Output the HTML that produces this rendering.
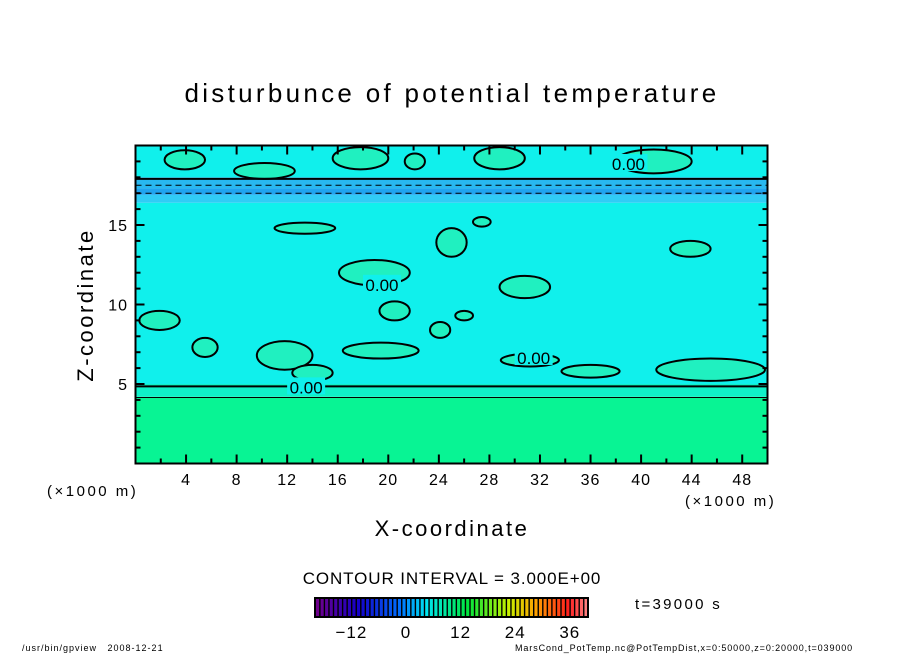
<!DOCTYPE html>
<html><head><meta charset="utf-8"><style>
body{margin:0;background:#fff;}
svg{display:block;font-family:"Liberation Sans","DejaVu Sans",sans-serif;}
</style></head><body>
<svg id="chart" width="904" height="654" viewBox="0 0 904 654">
<text x="452" y="102" text-anchor="middle" font-size="26" letter-spacing="3.3">disturbunce of potential temperature</text>
<text transform="translate(93,305) rotate(-90)" text-anchor="middle" font-size="22" letter-spacing="2.5">Z-coordinate</text>
<text x="452" y="536" text-anchor="middle" font-size="22" letter-spacing="2.5">X-coordinate</text>
<text x="47" y="496" font-size="15" letter-spacing="2.5">(×1000 m)</text>
<text x="685" y="506" font-size="15" letter-spacing="2.5">(×1000 m)</text>
<text x="452" y="584" text-anchor="middle" font-size="17" letter-spacing="0.9">CONTOUR INTERVAL = 3.000E+00</text>
<text x="635" y="609" font-size="15" letter-spacing="2.3">t=39000 s</text>
<text x="22" y="651" font-size="9" letter-spacing="1" style="white-space:pre">/usr/bin/gpview   2008-12-21</text>
<text x="515" y="651" font-size="9" letter-spacing="0.9">MarsCond_PotTemp.nc@PotTempDist,x=0:50000,z=0:20000,t=039000</text>
<g id="plot"></g>
<g id="cbar"></g>
</svg>
<script>
// data
const xTicks=[4,8,12,16,20,24,28,32,36,40,44,48];
const zTicks=[5,10,15];
// horizontal bands: [zFrom, zTo, value]
const bandZ0=[0,4.2,5,16.4,16.9,17.3,18.0];
const bandZ1=[4.2,5,16.4,16.9,17.3,18.0,20];
const bandVal=[6,3,0,-2,-4,-3,1];
// blobs (positive disturbance regions): centre x, centre z, half-width, half-height
const blobX=[3.9,10.2,17.8,22.1,28.8,41.0,13.4,25.0,27.4,30.8,18.9,20.5,24.1,26.0,1.9,5.5,11.8,19.4,31.2,43.9,45.5,36.0,14.0];
const blobZ=[19.1,18.4,19.2,19.0,19.2,19.0,14.8,13.9,15.2,11.1,12.0,9.6,8.4,9.3,9.0,7.3,6.8,7.1,6.5,13.5,5.9,5.8,5.7];
const blobW=[1.6,2.4,2.2,0.8,2.0,3.0,2.4,1.2,0.7,2.0,2.8,1.2,0.8,0.7,1.6,1.0,2.2,3.0,2.3,1.6,4.3,2.3,1.6];
const blobH=[0.6,0.5,0.7,0.5,0.7,0.75,0.35,0.9,0.3,0.7,0.8,0.6,0.5,0.3,0.6,0.6,0.9,0.5,0.4,0.5,0.7,0.4,0.5];
const solidZ=[4.85,17.9];
const thinZ=[4.15];
const dashZ=[17.5,17.0];
const cbTicks=[-12,0,12,24,36];

const NS="http://www.w3.org/2000/svg";
const X0=135.5,X1=767.5,Y0=463.5,Y1=145.5;
const sx=v=>X0+(v/50)*(X1-X0);
const sz=v=>Y0-(v/20)*(Y0-Y1);
function mk(t,a,p){const e=document.createElementNS(NS,t);for(const k in a)e.setAttribute(k,a[k]);p.appendChild(e);return e;}
function col(v){
  if(v>=5)return "#08f494";
  if(v>=2)return "#10f0c8";
  if(v>=-0.5)return "#10f0ec";
  if(v>=-2.5)return "#30ccf6";
  if(v>=-3.5)return "#28b8f0";
  return "#20a4f0";
}
const plot=document.getElementById('plot');
for(let i=0;i<bandZ0.length;i++){
  const r=mk('rect',{x:X0,y:sz(bandZ1[i]),width:X1-X0,height:sz(bandZ0[i])-sz(bandZ1[i]),fill:col(bandVal[i])},plot);
  
  
}
for(let i=0;i<blobX.length;i++){
  const e=mk('ellipse',{cx:sx(blobX[i]),cy:sz(blobZ[i]),rx:sx(blobW[i])-X0,ry:Y0-sz(blobH[i]),fill:"#20f0c0",stroke:"#000","stroke-width":2},plot);
  
  
}
solidZ.forEach(z=>{
  const l=mk('line',{x1:X0,x2:X1,y1:sz(z),y2:sz(z),stroke:"#000","stroke-width":2},plot);
  
  
});
thinZ.forEach(z=>{
  const l=mk('line',{x1:X0,x2:X1,y1:sz(z),y2:sz(z),stroke:"#000","stroke-width":1},plot);
  
  
});
dashZ.forEach(z=>{
  const l=mk('line',{x1:X0,x2:X1,y1:sz(z),y2:sz(z),stroke:"#000","stroke-width":1,"stroke-dasharray":"6 4"},plot);
  
  
});
[[13.5,4.85],[39.0,18.9],[19.5,11.3],[31.5,6.7]].forEach(p=>{
  const bg=mk('rect',{x:sx(p[0])-19,y:sz(p[1])-9,width:38,height:17,fill:"#10f0ec"},plot);
  
  
  const t=mk('text',{x:sx(p[0]),y:sz(p[1])+7,"text-anchor":"middle","font-size":17},plot);
  t.textContent="0.00";
  
  
});
const frame=mk('rect',{x:X0,y:Y1,width:X1-X0,height:Y0-Y1,fill:"none",stroke:"#000","stroke-width":2},plot);


for(let v=2;v<50;v+=2){
  const L=(v%4===0)?9:5;
  [[Y0,-L],[Y1,L]].forEach(a=>{
    const t=mk('line',{x1:sx(v),x2:sx(v),y1:a[0],y2:a[0]+a[1],stroke:"#000","stroke-width":2},plot);
    
    
  });
}
for(let v=1;v<20;v++){
  const L=(v%5===0)?9:5;
  [[X0,L],[X1,-L]].forEach(a=>{
    const t=mk('line',{x1:a[0],x2:a[0]+a[1],y1:sz(v),y2:sz(v),stroke:"#000","stroke-width":2},plot);
    
    
  });
}
xTicks.forEach(v=>{
  const t=mk('text',{x:sx(v),y:485,"text-anchor":"middle","font-size":16,"letter-spacing":1},plot);
  t.textContent=v;
  
  
});
zTicks.forEach(v=>{
  const t=mk('text',{x:128,y:sz(v)+6,"text-anchor":"end","font-size":16,"letter-spacing":1},plot);
  t.textContent=v;
  
  
});
// colorbar
const cb=document.getElementById('cbar');
const CX0=315,CX1=588,CY=598,CH=19,VMIN=-20,VMAX=40;
const cx=v=>CX0+(v-VMIN)/(VMAX-VMIN)*(CX1-CX0);
function rainbow(f){
  const stops=[[0,[110,0,140]],[0.15,[20,0,200]],[0.3,[0,110,255]],[0.4,[0,230,240]],[0.55,[0,230,60]],[0.7,[200,240,0]],[0.8,[255,160,0]],[0.92,[255,30,30]],[1,[255,150,150]]];
  for(let i=1;i<stops.length;i++){if(f<=stops[i][0]){const a=stops[i-1],b=stops[i],t=(f-a[0])/(b[0]-a[0]);return "rgb("+a[1].map((c,k)=>Math.round(c+(b[1][k]-c)*t)).join(",")+")";}}
  return "rgb(255,150,150)";
}
mk('rect',{x:CX0,y:CY,width:CX1-CX0,height:CH,fill:"#000"},cb);
for(let v=VMIN;v<VMAX;v+=1){
  const r=mk('rect',{x:cx(v)+1,y:CY,width:cx(v+1)-cx(v)-1.4,height:CH,fill:rainbow((v-VMIN)/(VMAX-VMIN))},cb);
  
  
}
const cf=mk('rect',{x:CX0,y:CY,width:CX1-CX0,height:CH,fill:"none",stroke:"#000","stroke-width":2},cb);


cbTicks.forEach(v=>{
  const t=mk('text',{x:cx(v),y:638,"text-anchor":"middle","font-size":17,"letter-spacing":1},cb);
  t.textContent=v<0?"\u2212"+(-v):v;
  
  
});
</script>
</body></html>
